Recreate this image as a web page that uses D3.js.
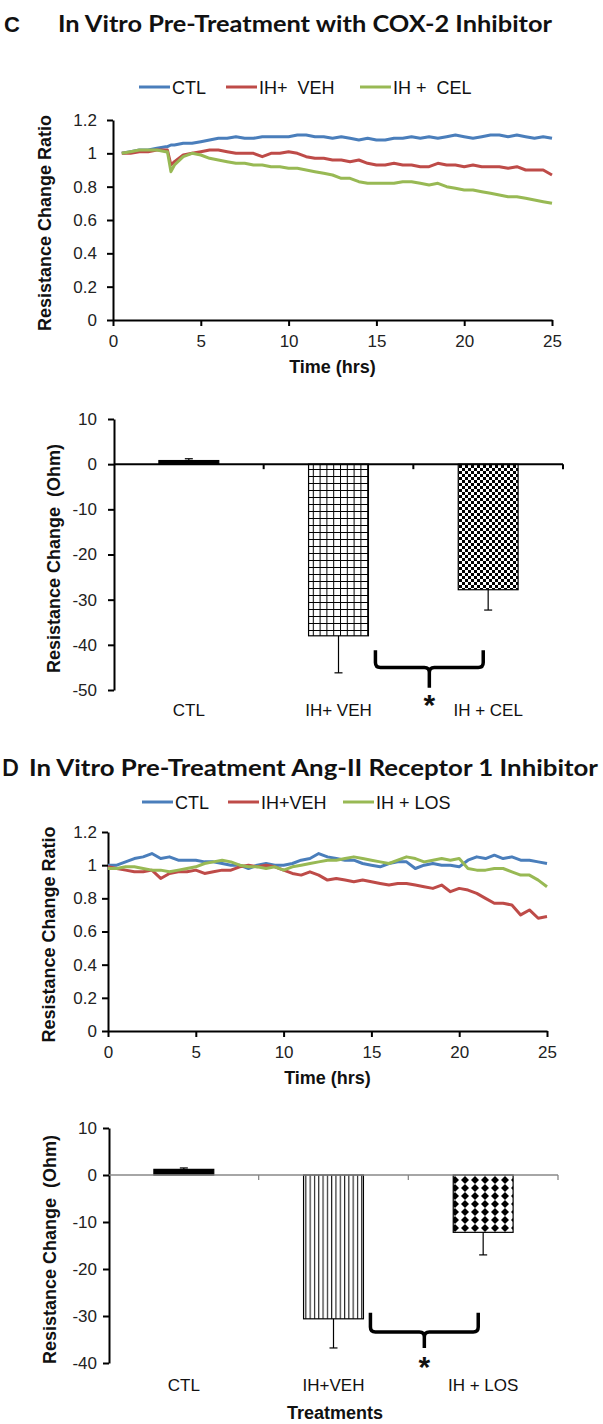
<!DOCTYPE html>
<html><head><meta charset="utf-8">
<script src="https://cdn.jsdelivr.net/npm/d3@7"></script>
<style>body{margin:0;background:#fff}svg{display:block}</style>
</head><body>
<script>
// ---------- DATA ----------
const timesC = [0.5,1,1.5,2,2.5,3,3.1,3.3,3.5,4,4.5,5,5.5,6,6.5,7,7.5,8,8.5,9,9.5,10,10.5,11,11.5,12,12.5,13,13.5,14,14.5,15,15.5,16,16.5,17,17.5,18,18.5,19,19.5,20,20.5,21,21.5,22,22.5,23,23.5,24,24.5,25];
const ctlC = [1.00,1.01,1.02,1.02,1.03,1.04,1.04,1.05,
  1.05,1.06,1.06,1.07,1.08,1.09,1.09,1.10,1.09,1.09,
  1.10,1.10,1.10,1.10,1.11,1.11,1.10,1.10,1.09,1.10,
  1.09,1.08,1.09,1.08,1.08,1.09,1.09,1.10,1.09,1.10,
  1.09,1.10,1.11,1.10,1.09,1.10,1.11,1.11,1.10,1.11,
  1.10,1.09,1.10,1.09];
const vehC = [1.00,1.00,1.01,1.01,1.02,1.02,1.02,0.93,
  0.95,0.99,1.00,1.01,1.02,1.02,1.01,1.00,1.00,1.00,
  0.98,1.00,1.00,1.01,1.00,0.98,0.97,0.97,0.96,0.96,
  0.95,0.96,0.94,0.93,0.93,0.94,0.93,0.93,0.92,0.92,
  0.94,0.93,0.93,0.92,0.93,0.92,0.92,0.92,0.91,0.92,
  0.90,0.90,0.90,0.87];
const celC = [1.00,1.01,1.02,1.02,1.02,1.01,1.01,0.89,
  0.93,0.98,1.00,0.99,0.97,0.96,0.95,0.94,0.94,0.93,
  0.93,0.92,0.92,0.91,0.91,0.90,0.89,0.88,0.87,0.85,
  0.85,0.83,0.82,0.82,0.82,0.82,0.83,0.83,0.82,0.81,
  0.82,0.80,0.79,0.78,0.78,0.77,0.76,0.75,0.74,0.74,
  0.73,0.72,0.71,0.70];

const timesD = [0,0.5,1,1.5,2,2.5,3,3.5,4,4.5,5,5.5,6,6.5,7,7.5,8,8.5,9,9.5,10,10.5,11,11.5,12,12.5,13,13.5,14,14.5,15,15.5,16,16.5,17,17.5,18,18.5,19,19.5,20,20.5,21,21.5,22,22.5,23,23.5,24,24.5,25];
const ctlD = [1.00,1.00,1.02,1.04,1.05,1.07,1.04,1.05,1.03,1.03,
  1.03,1.02,1.02,1.01,1.00,1.00,0.98,1.00,1.01,1.00,
  1.00,1.01,1.03,1.04,1.07,1.05,1.04,1.03,1.03,1.01,
  1.00,0.99,1.01,1.02,1.02,0.98,1.00,1.01,1.00,1.00,
  0.99,1.03,1.05,1.04,1.06,1.04,1.05,1.03,1.03,1.02,
  1.01];
const vehD = [0.99,0.98,0.97,0.96,0.96,0.97,0.92,0.95,0.96,0.96,
  0.97,0.95,0.96,0.97,0.97,0.99,1.00,0.99,1.00,0.99,
  0.97,0.95,0.94,0.96,0.94,0.91,0.92,0.91,0.90,0.91,
  0.90,0.89,0.88,0.89,0.89,0.88,0.87,0.86,0.88,0.84,
  0.86,0.85,0.83,0.80,0.77,0.77,0.76,0.70,0.73,0.68,
  0.69];
const losD = [0.98,0.98,0.99,0.99,0.98,0.97,0.97,0.96,0.97,0.98,
  0.99,1.01,1.02,1.03,1.02,1.00,0.99,0.99,0.98,0.99,
  0.97,0.99,1.00,1.01,1.02,1.03,1.03,1.04,1.05,1.04,
  1.03,1.02,1.01,1.03,1.05,1.04,1.02,1.03,1.04,1.03,
  1.04,0.98,0.97,0.97,0.98,0.98,0.96,0.94,0.94,0.91,
  0.87];

const lineYTicks = [0,0.2,0.4,0.6,0.8,1,1.2];
const timeTicks = [0,5,10,15,20,25];

const catsC = ["CTL","IH+ VEH","IH + CEL"];
const barC = [0.8,-38.0,-27.8];
const errC = [0.4,8.2,4.5];
const barTicksC = [10,0,-10,-20,-30,-40,-50];
const braceC = [-41.2,-45.0,-49.5]; // top, bar, tip (Ohm)

const catsD = ["CTL","IH+ VEH","IH + LOS"];
const catLabelsD = ["CTL","IH+VEH","IH + LOS"];
const barD = [1.2,-30.6,-12.2];
const errD = [0.3,6.2,4.8];
const barTicksD = [10,0,-10,-20,-30,-40];
const braceD = [-29.3,-33.4,-36.8];

const colors = ["#4a7ebb","#be4b48","#98b954"];

// ---------- DRAW ----------
const svg = d3.select("body").append("svg").attr("width",603).attr("height",1424);
const FONT = "'Liberation Sans', Arial, sans-serif";
const defs = svg.append("defs");

function pat(id,w,h,draw){
  const p = defs.append("pattern").attr("id",id).attr("patternUnits","userSpaceOnUse").attr("width",w).attr("height",h);
  p.append("rect").attr("width",w).attr("height",h).attr("fill","#fff");
  draw(p);
}
pat("gridC",6.8,7,p=>{
  p.append("path").attr("d","M0.5,0V7M0,0.5H6.8").attr("stroke","#000").attr("stroke-width",1);
});
pat("checkC",6,6,p=>{
  p.append("rect").attr("x",0).attr("y",0).attr("width",3).attr("height",3).attr("fill","#000");
  p.append("rect").attr("x",3).attr("y",3).attr("width",3).attr("height",3).attr("fill","#000");
});
pat("vlinesD",4.3,10,p=>{
  p.append("path").attr("d","M0.6,0V10").attr("stroke","#000").attr("stroke-width",1);
});
pat("diamD",10,8,p=>{
  p.append("path").attr("d","M5,0L9,4L5,8L1,4Z").attr("fill","#000");
});

function textEl(x,y,str,size,weight,anchor,family){
  return svg.append("text").attr("x",x).attr("y",y).text(str)
    .attr("font-size",size).attr("font-weight",weight||"normal")
    .attr("text-anchor",anchor||"start").attr("font-family",family||FONT)
    .attr("fill","#111").style("white-space","pre");
}
function vTitle(x,yc,str){
  svg.append("text").attr("transform",`translate(${x},${yc}) rotate(-90)`)
    .attr("text-anchor","middle").attr("font-size",18).attr("font-weight","bold")
    .attr("font-family",FONT).attr("fill","#111").style("white-space","pre").text(str);
}

function styleAxis(g, color, width){
  g.select(".domain").attr("stroke",color||"#000").attr("stroke-width",width||2);
  g.selectAll(".tick line").attr("stroke",color||"#000").attr("stroke-width",width||2);
  g.selectAll(".tick text").attr("font-size",17).attr("font-family",FONT).attr("fill","#222");
}

function lineChart(o){
  const x = d3.scaleLinear().domain([0,25]).range([o.x0,o.x1]);
  const y = d3.scaleLinear().domain([0,1.2]).range([o.y0,o.y1]);
  const gy = svg.append("g").attr("transform",`translate(${o.x0},0)`)
    .call(d3.axisLeft(y).tickValues(lineYTicks).tickSize(6).tickPadding(o.ypad).tickSizeOuter(0).tickFormat(d=>String(+d.toFixed(1))));
  styleAxis(gy);
  const gx = svg.append("g").attr("transform",`translate(0,${o.y0})`)
    .call(d3.axisBottom(x).tickValues(timeTicks).tickSize(6).tickPadding(9).tickSizeOuter(0).tickFormat(d=>String(d)));
  styleAxis(gx);
  const line = d3.line().x((d,i)=>x(o.times[i])).y(d=>y(d));
  o.series.forEach((s,i)=>{
    svg.append("path").datum(s).attr("d",line).attr("fill","none")
      .attr("stroke",colors[i]).attr("stroke-width",3).attr("stroke-linejoin","round");
  });
  textEl((o.x0+o.x1)/2, o.timeY, "Time (hrs)", 18, "bold", "middle");
  vTitle(o.titleX, (o.y0+o.y1)/2 + 3, "Resistance Change Ratio");
  o.legend.forEach((l,i)=>{
    svg.append("line").attr("x1",l[0]).attr("x2",l[0]+31).attr("y1",o.legY).attr("y2",o.legY)
      .attr("stroke",colors[i]).attr("stroke-width",3);
    textEl(l[0]+33, o.legY+6.5, l[1], 18, "normal", "start");
  });
}

function barChart(o){
  const x = d3.scaleBand().domain(o.cats).range([o.x0,o.x1]).paddingInner(0).paddingOuter(0);
  const y = d3.scaleLinear().domain(o.ydom).range([o.yb,o.yt]);
  const gy = svg.append("g").attr("transform",`translate(${o.x0},0)`)
    .call(d3.axisLeft(y).tickValues(o.ticks).tickSize(6).tickPadding(o.ypad).tickSizeOuter(0).tickFormat(d=>String(d)));
  styleAxis(gy);
  const bw = x.bandwidth()*0.4;
  const cx = c => x(c)+x.bandwidth()/2;
  o.cats.forEach((c,i)=>{
    const v = o.vals[i];
    svg.append("rect").attr("x",cx(c)-bw/2).attr("width",bw)
      .attr("y",y(Math.max(0,v))).attr("height",Math.abs(y(v)-y(0)))
      .attr("fill",o.fills[i]).attr("stroke","#000").attr("stroke-width",1.2);
    const e = v>=0 ? v+o.errs[i] : v-o.errs[i];
    svg.append("line").attr("x1",cx(c)).attr("x2",cx(c)).attr("y1",y(v)).attr("y2",y(e))
      .attr("stroke","#000").attr("stroke-width",1.2);
    svg.append("line").attr("x1",cx(c)-4).attr("x2",cx(c)+4).attr("y1",y(e)).attr("y2",y(e))
      .attr("stroke","#000").attr("stroke-width",1.2);
    textEl(cx(c), o.catY, o.labels[i], 17, "normal", "middle");
  });
  svg.append("line").attr("x1",o.x0).attr("x2",o.x1).attr("y1",y(0)).attr("y2",y(0))
    .attr("stroke",o.zeroColor).attr("stroke-width",o.zeroW);
  o.cats.forEach((c,i)=>{
    const bx = x(c)+x.bandwidth();
    svg.append("line").attr("x1",bx).attr("x2",bx).attr("y1",y(0)).attr("y2",y(0)+5)
      .attr("stroke",o.zeroColor).attr("stroke-width",o.zeroW);
  });
  const L = cx(o.cats[1])+bw/2+7, R = cx(o.cats[2])-bw/2+25, M = (L+R)/2;
  const yt = y(o.brace[0]), ym = y(o.brace[1]), yk = y(o.brace[2]);
  const r = 5;
  svg.append("path").attr("d",
    `M${L},${yt}L${L},${ym-r}Q${L},${ym} ${L+r},${ym}L${M-r},${ym}Q${M},${ym} ${M},${ym+r}L${M},${yk}` +
    `M${M},${ym+r}Q${M},${ym} ${M+r},${ym}L${R-r},${ym}Q${R},${ym} ${R},${ym-r}L${R},${yt}`)
    .attr("fill","none").attr("stroke","#000").attr("stroke-width",3.5);
  textEl(M, o.starY, "*", 30, "bold", "middle");
  vTitle(o.titleX, (o.yt+o.yb)/2 + 4, "Resistance Change  (Ohm)");
}

// ----- Panel C -----
textEl(4,32,"C",22,"bold","start");
textEl(58,32,"In Vitro Pre-Treatment with COX-2 Inhibitor",23,"bold","start","Lato, 'Open Sans', sans-serif")
  .attr("textLength",494).attr("lengthAdjust","spacingAndGlyphs");
lineChart({times:timesC, series:[ctlC,vehC,celC], x0:113,x1:552,y0:320,y1:120, ypad:10,
  timeY:373, titleX:51, legY:87, legend:[[139,"CTL"],[226,"IH+  VEH"],[360,"IH +  CEL"]]});
barChart({cats:catsC, labels:catsC, vals:barC, errs:errC, ticks:barTicksC, ydom:[-50,10],
  x0:114,x1:563, yb:690, yt:419, ypad:11, fills:["#000","url(#gridC)","url(#checkC)"],
  zeroColor:"#000", zeroW:2, catY:716, brace:braceC, starY:715, titleX:60});

// ----- Panel D -----
textEl(2,776,"D",22,"bold","start","Lato, 'Open Sans', sans-serif");
textEl(29,776,"In Vitro Pre-Treatment Ang-II Receptor 1 Inhibitor",23,"bold","start","Lato, 'Open Sans', sans-serif")
  .attr("textLength",569).attr("lengthAdjust","spacingAndGlyphs");
lineChart({times:timesD, series:[ctlD,vehD,losD], x0:108,x1:547,y0:1031,y1:832, ypad:5,
  timeY:1084, titleX:55, legY:802, legend:[[142,"CTL"],[228,"IH+VEH"],[343,"IH + LOS"]]});
barChart({cats:catsD, labels:catLabelsD, vals:barD, errs:errD, ticks:barTicksD, ydom:[-40,10],
  x0:109,x1:558, yb:1363, yt:1128, ypad:6, fills:["#000","url(#vlinesD)","url(#diamD)"],
  zeroColor:"#888", zeroW:1.3, catY:1391, brace:braceD, starY:1377, titleX:56});
textEl(335,1419,"Treatments",18,"bold","middle");
</script>
</body></html>
